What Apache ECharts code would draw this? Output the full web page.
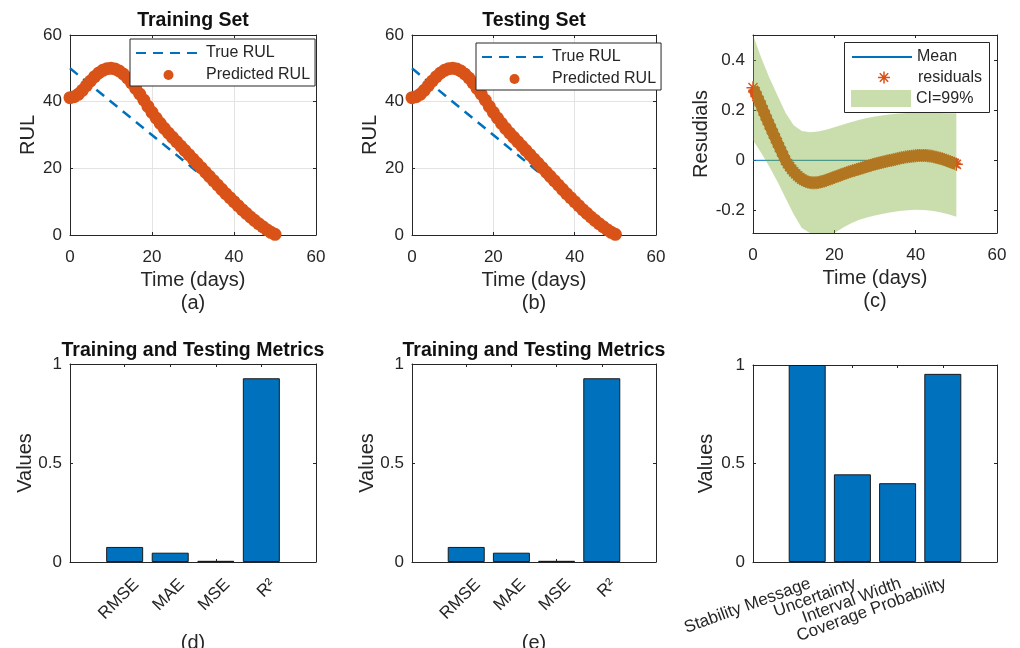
<!DOCTYPE html>
<html><head><meta charset="utf-8">
<script src="https://cdn.jsdelivr.net/npm/echarts@6/dist/echarts.min.js"></script>
<style>html,body{margin:0;padding:0;background:#fff}#c{width:1020px;height:648px}</style>
</head><body><div id="c"></div>
<script>
// ---------- data ----------
const days = [0,1,2,3,4,5,6,7,8,9,10,11,12,13,14,15,16,17,18,19,20,21,22,23,24,25,26,27,28,29,30,31,32,33,34,35,36,37,38,39,40,41,42,43,44,45,46,47,48,49,50];
const trueDays = [0, 50];
const trueRULTrain = [50, 0];
const trueRULTest = [50, 0];
const predTrain = [41.2,41.5,42.2,43.4,44.8,46.2,47.5,48.6,49.4,49.9,50.0,49.8,49.2,48.3,47.1,45.6,44.0,42.3,40.5,38.6,36.8,35.1,33.5,32.0,30.6,29.3,28.0,26.7,25.4,24.1,22.8,21.5,20.2,18.9,17.6,16.3,15.0,13.7,12.4,11.2,10.0,8.8,7.6,6.5,5.4,4.4,3.4,2.5,1.6,0.8,0.2];
const predTest = [41.2,41.5,42.2,43.4,44.8,46.2,47.5,48.6,49.4,49.9,50.0,49.8,49.2,48.3,47.1,45.6,44.0,42.3,40.5,38.6,36.8,35.1,33.5,32.0,30.6,29.3,28.0,26.7,25.4,24.1,22.8,21.5,20.2,18.9,17.6,16.3,15.0,13.7,12.4,11.2,10.0,8.8,7.6,6.5,5.4,4.4,3.4,2.5,1.6,0.8,0.2];
const residDays = [0,0.5,1,1.5,2,2.5,3,3.5,4,4.5,5,5.5,6,6.5,7,7.5,8,8.5,9,9.5,10,10.5,11,11.5,12,12.5,13,13.5,14,14.5,15,15.5,16,16.5,17,17.5,18,18.5,19,19.5,20,20.5,21,21.5,22,22.5,23,23.5,24,24.5,25,25.5,26,26.5,27,27.5,28,28.5,29,29.5,30,30.5,31,31.5,32,32.5,33,33.5,34,34.5,35,35.5,36,36.5,37,37.5,38,38.5,39,39.5,40,40.5,41,41.5,42,42.5,43,43.5,44,44.5,45,45.5,46,46.5,47,47.5,48,48.5,49,49.5,50];
const residuals = [0.290,0.273,0.255,0.237,0.218,0.199,0.180,0.161,0.143,0.124,0.106,0.088,0.070,0.052,0.035,0.017,0.000,-0.013,-0.025,-0.036,-0.046,-0.054,-0.062,-0.069,-0.075,-0.080,-0.084,-0.087,-0.089,-0.090,-0.090,-0.090,-0.089,-0.087,-0.085,-0.083,-0.080,-0.077,-0.074,-0.071,-0.068,-0.065,-0.062,-0.059,-0.056,-0.053,-0.050,-0.047,-0.045,-0.042,-0.040,-0.037,-0.035,-0.032,-0.030,-0.027,-0.025,-0.022,-0.020,-0.017,-0.015,-0.013,-0.011,-0.009,-0.007,-0.005,-0.003,-0.001,0.000,0.002,0.004,0.006,0.008,0.010,0.011,0.013,0.014,0.015,0.016,0.017,0.018,0.019,0.019,0.019,0.019,0.019,0.018,0.017,0.016,0.014,0.012,0.010,0.008,0.006,0.003,0.000,-0.003,-0.006,-0.009,-0.012,-0.016];
const meanDays = [0, 50];
const meanResidual = [0, 0];
const ciDays = [0,2,4,6,8,10,12,14,16,18,20,22,24,26,28,30,32,34,36,38,40,42,44,46,48,50];
const ciUpper = [0.52,0.41,0.33,0.26,0.19,0.14,0.117,0.112,0.115,0.122,0.132,0.142,0.152,0.161,0.169,0.175,0.180,0.184,0.187,0.189,0.190,0.190,0.190,0.189,0.188,0.188];
const ciLower = [0.08,0.03,-0.025,-0.085,-0.15,-0.215,-0.27,-0.30,-0.31,-0.305,-0.29,-0.27,-0.252,-0.238,-0.228,-0.22,-0.213,-0.207,-0.202,-0.199,-0.197,-0.198,-0.201,-0.207,-0.215,-0.225];
const metricNames = ['RMSE','MAE','MSE','R\u00B2'];
const trainMetrics = [0.076, 0.047, 0.006, 0.928];
const testMetrics = [0.076, 0.047, 0.006, 0.928];
const uqNames = ['Stability Message','Uncertainty','Interval Width','Coverage Probability'];
const uqValues = [1.0, 0.445, 0.40, 0.955];
const rulTicks = [0, 20, 40, 60];
const residTicks = [-0.2, 0, 0.2, 0.4];
const barTicks = [1, 2, 3, 4];

// ---------- style ----------
const AX = '#262626';
const FONT = '"Liberation Sans", Arial, sans-serif';
const BLUE = '#0072BD';
const ORANGE = '#D95319';
const GREEN = '#77AC30';
const ASTERISK = 'path://M5 0L5 10M0 5L10 5M1.5 1.5L8.5 8.5M1.5 8.5L8.5 1.5';

const grids = [
  {left: 70,  top: 35,  width: 246, height: 200},
  {left: 412, top: 35,  width: 244, height: 200},
  {left: 753, top: 35,  width: 244, height: 198},
  {left: 70,  top: 364, width: 246, height: 198},
  {left: 412, top: 364, width: 244, height: 198},
  {left: 753, top: 365, width: 244, height: 197},
  // label/bar layer for panel (f): 4 category bands aligned with panel (f) bar slots
  {left: 784.6, top: 365, width: 180.8, height: 197}
];

const nameStyle = {color: AX, fontSize: 20, fontFamily: FONT, lineHeight: 23};

function mkAxis(gi, pos, cfg) {
  const mirror = (pos === 'top' || pos === 'right');
  const a = {
    gridIndex: gi, type: 'value', position: pos,
    axisLine: {show: true, onZero: false, lineStyle: {color: AX, width: 1}},
    axisTick: Object.assign({show: true, inside: true, length: 3, lineStyle: {color: AX}}, cfg.tick || {}),
    axisLabel: Object.assign({show: !mirror && !cfg.noLabel, color: AX, fontSize: 17, fontFamily: FONT,
      showMinLabel: true, showMaxLabel: true, hideOverlap: false}, cfg.label || {}),
    splitLine: {show: !mirror && !!cfg.grid, lineStyle: {color: '#e3e3e3', width: 1}},
    name: mirror ? '' : (cfg.name || ''), nameLocation: 'middle', nameGap: cfg.nameGap || 20,
    nameMoveOverlap: false,
    nameTextStyle: nameStyle
  };
  return Object.assign(a, cfg.range);
}

const xAxes = [], yAxes = [];
function addAxes(gi, xc, yc) {
  xAxes.push(mkAxis(gi, 'bottom', xc));
  xAxes.push(mkAxis(gi, 'top', xc));
  yAxes.push(mkAxis(gi, 'left', yc));
  yAxes.push(mkAxis(gi, 'right', yc));
}

const timeRange = {min: 0, max: 60, interval: 20};
addAxes(0, {range: timeRange, grid: true, name: 'Time (days)\n(a)', nameGap: 34, label: {margin: 14}},
           {range: {min: 0, max: 60, interval: 20}, grid: true, name: 'RUL', nameGap: 30, label: {margin: 8}});
addAxes(1, {range: timeRange, grid: true, name: 'Time (days)\n(b)', nameGap: 34, label: {margin: 14}},
           {range: {min: 0, max: 60, interval: 20}, grid: true, name: 'RUL', nameGap: 30, label: {margin: 8}});
addAxes(2, {range: timeRange, grid: false, name: 'Time (days)\n(c)', nameGap: 34, label: {margin: 14}},
           {range: {min: -0.29, max: 0.5}, grid: false, name: 'Resudials', nameGap: 40,
            label: {margin: 8, customValues: residTicks, formatter: v => (Math.abs(v) < 1e-9 ? '0' : v.toFixed(1))},
            tick: {customValues: residTicks}});
// label anchor shift (layout only) so rotated labels sit like the reference
const barX = (names, rot, shift, margin, gapName, nm) => ({
  range: {min: -0.2, max: 5.2}, grid: false, name: nm, nameGap: gapName,
  label: {margin: margin, rotate: rot, align: 'right', verticalAlign: 'top',
    customValues: barTicks.map(v => v + shift),
    formatter: v => names[Math.round(v - shift) - 1] || ''},
  tick: {customValues: barTicks}
});
const barY = (gap) => ({range: {min: 0, max: 1, interval: 0.5}, grid: false, name: 'Values', nameGap: gap,
  label: {margin: 8, formatter: v => (v === 0.5 ? '0.5' : String(v))}});
addAxes(3, barX(metricNames, 45, 0.12, 14, 70, '(d)'), barY(33.5));
addAxes(4, barX(metricNames, 45, 0.12, 14, 70, '(e)'), barY(33.5));
addAxes(5, {range: {min: -0.2, max: 5.2}, grid: false, noLabel: true, tick: {customValues: barTicks}}, barY(35.5));
// panel (f) category layer (index 12)
xAxes.push({gridIndex: 6, type: 'category', data: uqNames, position: 'bottom',
  axisLine: {show: false}, axisTick: {show: false}, splitLine: {show: false},
  axisLabel: {interval: 0, rotate: 20, align: 'right', verticalAlign: 'top', margin: 13,
    color: AX, fontSize: 17, fontFamily: FONT}});
yAxes.push({gridIndex: 6, type: 'value', min: 0, max: 1, show: false});

const pairs = (xs, ys) => xs.map((x, i) => [x, ys[i]]);

const series = [];
function rulPanel(gi, trueVals, predVals) {
  series.push({type: 'line', name: 'True RUL', xAxisIndex: 2 * gi, yAxisIndex: 2 * gi,
    data: pairs(trueDays, trueVals), symbol: 'none', z: 2,
    lineStyle: {color: BLUE, width: 2.5, type: [10, 7]}, itemStyle: {color: BLUE}});
  series.push({type: 'scatter', name: 'Predicted RUL', xAxisIndex: 2 * gi, yAxisIndex: 2 * gi,
    data: pairs(days, predVals), symbol: 'circle', symbolSize: 13, z: 3,
    itemStyle: {color: ORANGE, opacity: 1}});
}
rulPanel(0, trueRULTrain, predTrain);
rulPanel(1, trueRULTest, predTest);

series.push({type: 'line', name: 'Mean', xAxisIndex: 4, yAxisIndex: 4, data: pairs(meanDays, meanResidual),
  symbol: 'none', z: 2, lineStyle: {color: BLUE, width: 1}, itemStyle: {color: BLUE}});
// dense marker trail of the residuals (the reference's markers merge into a solid band)
series.push({type: 'line', name: 'residuals trail', xAxisIndex: 4, yAxisIndex: 4, data: pairs(residDays, residuals),
  symbol: 'none', smooth: true, z: 3, lineStyle: {color: ORANGE, width: 11, cap: 'butt'}, itemStyle: {color: ORANGE}});
series.push({type: 'scatter', name: 'residuals', xAxisIndex: 4, yAxisIndex: 4, data: pairs(residDays, residuals),
  symbol: ASTERISK, symbolSize: 13, z: 3,
  itemStyle: {color: 'none', borderColor: ORANGE, borderWidth: 1.5, opacity: 1}});
series.push({type: 'custom', name: 'CI=99%', xAxisIndex: 4, yAxisIndex: 4, z: 4,
  data: ciDays.map((d, i) => [d, ciUpper[i], ciLower[i]]),
  encode: {x: 0, y: [1, 2]},
  renderItem: function (params, api) {
    if (params.dataIndex !== 0) return null;
    const pts = [];
    for (let i = 0; i < ciDays.length; i++) pts.push(api.coord([ciDays[i], ciUpper[i]]));
    for (let i = ciDays.length - 1; i >= 0; i--) pts.push(api.coord([ciDays[i], ciLower[i]]));
    const cs = params.coordSys;
    const clipped = echarts.graphic.clipPointsByRect(pts, {x: cs.x, y: cs.y, width: cs.width, height: cs.height});
    return {type: 'polygon', shape: {points: clipped}, style: {fill: GREEN, opacity: 0.4}};
  }
});

const barStyle = {color: BLUE, borderColor: '#1a1a1a', borderWidth: 1};
series.push({type: 'bar', name: 'train metrics', xAxisIndex: 6, yAxisIndex: 6,
  data: pairs(barTicks, trainMetrics), barWidth: 37, itemStyle: barStyle});
series.push({type: 'bar', name: 'test metrics', xAxisIndex: 8, yAxisIndex: 8,
  data: pairs(barTicks, testMetrics), barWidth: 37, itemStyle: barStyle});
series.push({type: 'bar', name: 'uq metrics', xAxisIndex: 12, yAxisIndex: 12,
  data: uqValues, barWidth: 37, itemStyle: barStyle});

const legText = {fontSize: 16, color: AX, fontFamily: FONT, lineHeight: 16};
const noSym = {opacity: 0, color: 'rgba(0,0,0,0)', borderWidth: 0};
const rulLegend = (left, top) => ({
  left: left, top: top, orient: 'vertical', padding: [6, 5, 3, 5], itemGap: 6,
  itemWidth: 65, itemHeight: 10, borderColor: AX, borderWidth: 1, backgroundColor: '#fff',
  textStyle: legText, z: 10,
  data: [{name: 'True RUL', itemStyle: noSym}, 'Predicted RUL']
});

const option = {
  animation: false,
  backgroundColor: '#fff',
  title: [
    {text: 'Training Set', left: 193, top: 11, textAlign: 'center'},
    {text: 'Testing Set', left: 534, top: 11, textAlign: 'center'},
    {text: 'Training and Testing Metrics', left: 193, top: 341, textAlign: 'center'},
    {text: 'Training and Testing Metrics', left: 534, top: 341, textAlign: 'center'}
  ].map(t => Object.assign(t, {padding: 0, textStyle: {fontSize: 19.5, fontWeight: 'bold', color: '#111', fontFamily: FONT}})),
  grid: grids.map(g => Object.assign({containLabel: false, outerBoundsMode: 'none'}, g)),
  xAxis: xAxes,
  yAxis: yAxes,
  legend: [
    rulLegend(130, 39),
    rulLegend(476, 43),
    {left: 851, top: 49, padding: 0, itemWidth: 60, itemHeight: 10, textStyle: legText, z: 10,
      data: [{name: 'Mean', itemStyle: noSym}]},
    {left: 875.5, top: 69, padding: 0, itemWidth: 12, itemHeight: 12, z: 10,
      textStyle: Object.assign({padding: [0, 0, 0, 23]}, legText),
      data: [{name: 'residuals', itemStyle: {color: 'none', borderColor: ORANGE, borderWidth: 1.5}}]},
    {left: 851, top: 90, padding: 0, itemWidth: 60, itemHeight: 17, textStyle: legText, z: 10,
      data: [{name: 'CI=99%', icon: 'rect', itemStyle: {color: '#C9DEAC', opacity: 1}}]}
  ],
  graphic: [
    {type: 'rect', z: 8, shape: {x: 844.5, y: 42.5, width: 145, height: 70},
     style: {fill: '#fff', stroke: AX, lineWidth: 1}}
  ],
  series: series
};

const chart = echarts.init(document.getElementById('c'));
chart.setOption(option);
</script>
</body></html>
